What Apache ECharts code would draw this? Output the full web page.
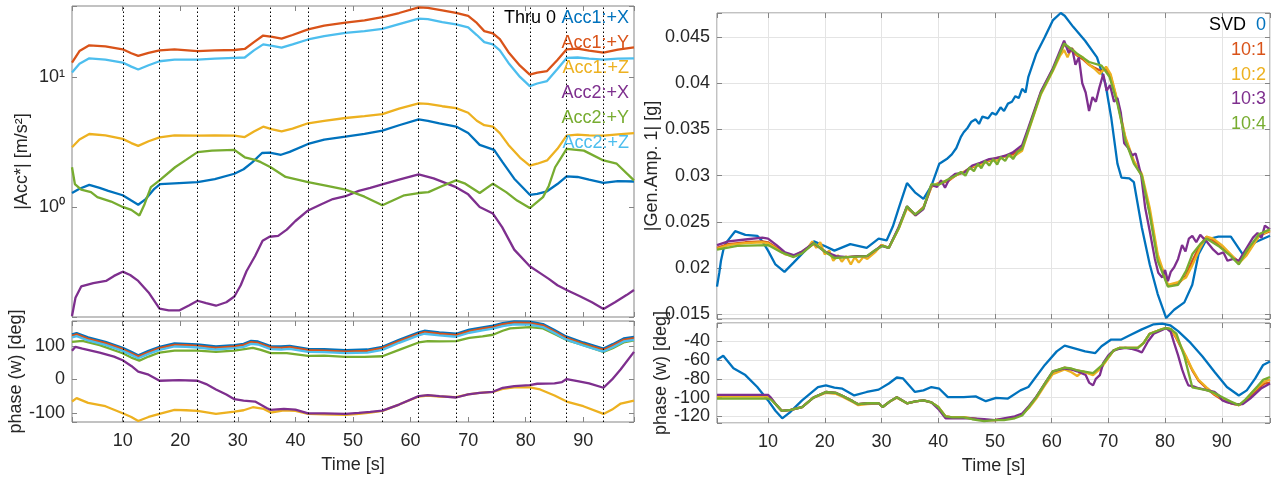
<!DOCTYPE html>
<html><head><meta charset="utf-8">
<script src="https://cdn.jsdelivr.net/npm/echarts@6/dist/echarts.min.js"></script>
<style>html,body{margin:0;padding:0;background:#fff}#c{width:1274px;height:479px}</style>
</head><body><div id="c"></div>
<script>
// ---------- DATA ----------
const vlines = [10.05, 16.4, 22.9, 29.3, 35.7, 42.15, 48.6, 55.0, 61.4, 67.85, 74.3, 80.7, 87.1, 93.5];

const leftNames = ['Acc1:+X','Acc1:+Y','Acc1:+Z','Acc2:+X','Acc2:+Y','Acc2:+Z'];
const rightNames = ['0','10:1','10:2','10:3','10:4'];

// |Acc*| magnitudes [t, m/s^2]
const magAcc1X = [[1.2,1.28],[2.5,1.38],[4.2,1.48],[6,1.40],[7.5,1.33],[10,1.23],[11.5,1.12],[12.7,1.04],[14,1.15],[15.5,1.38],[16.5,1.50],[19,1.52],[23,1.55],[26,1.64],[29.4,1.80],[31,1.95],[32.5,2.2],[34.2,2.6],[35.5,2.62],[37.5,2.52],[39,2.65],[42.2,3.05],[45,3.3],[48.7,3.47],[52,3.65],[55.1,3.86],[58,4.25],[61.4,4.72],[63,4.6],[65,4.4],[67.9,4.15],[70,3.7],[72,3.0],[73.5,2.85],[74.5,2.75],[76,2.2],[78,1.65],[80.7,1.24],[82,1.26],[83.7,1.32],[85.5,1.5],[87.1,1.72],[89,1.7],[91,1.62],[93.5,1.53],[96,1.58],[98.8,1.57]];
const magAcc1Y = [[1.2,12.9],[2.5,15.8],[4.2,17.5],[7,17.2],[10,16.3],[11.5,15.2],[12.7,14.5],[14.5,15.3],[16.4,16.0],[19,16.3],[23,15.8],[26,16.0],[29.4,16.1],[31.2,16.4],[32.8,18.5],[34.4,20.8],[36,20.3],[37.6,19.7],[39.5,21],[42.2,23.2],[45,24.8],[48.7,26.1],[52,27.2],[55.1,28.8],[58,31],[61.4,34.3],[63,34],[65.5,32.5],[67.9,31.1],[70,29.5],[71.5,26],[72.8,22.5],[74.3,21.6],[75.5,19.5],[77,15.5],[79,12.2],[80.7,10.4],[82,10.8],[83.7,11.1],[85.5,13.5],[87.1,16.3],[89,16.5],[91,15.9],[93.5,15.4],[96,16.2],[98.8,16.9]];
const magAcc1Z = [[1.2,2.88],[2.5,3.3],[4.2,3.64],[7,3.55],[10,3.34],[11.5,3.1],[12.7,2.95],[14.5,3.2],[16.4,3.43],[19,3.55],[23,3.54],[26,3.55],[29.4,3.54],[31.2,3.45],[32.8,3.8],[34.4,4.14],[36,3.95],[37.6,3.81],[39.5,4.0],[42.2,4.4],[45,4.6],[48.7,4.83],[52,5.0],[55.1,5.18],[58,5.7],[61.4,6.25],[63,6.2],[65.5,5.95],[67.9,5.75],[70,5.3],[71.5,4.6],[72.8,4.25],[74.3,4.14],[75.5,3.7],[77,3.0],[79,2.4],[80.7,2.08],[82,2.15],[83.7,2.28],[85.5,2.8],[87.1,3.54],[89,3.6],[91,3.55],[93.5,3.54],[96,3.62],[98.8,3.7]];
const magAcc2X = [[1.2,0.145],[1.8,0.2],[2.8,0.245],[4.9,0.26],[7.1,0.27],[8.5,0.295],[10,0.318],[11.3,0.30],[12.7,0.27],[14.5,0.22],[16.4,0.165],[18,0.16],[19.8,0.16],[21.5,0.175],[23,0.19],[24.5,0.182],[26.2,0.174],[28,0.185],[29.4,0.205],[30.5,0.25],[31.5,0.32],[33,0.42],[34.3,0.55],[35.5,0.59],[37,0.6],[38.5,0.67],[40,0.78],[42.2,0.94],[44.5,1.05],[46.5,1.15],[48.7,1.21],[51,1.33],[53,1.4],[55.1,1.49],[58,1.62],[61.4,1.78],[64,1.66],[67.9,1.42],[70,1.25],[72,1.0],[74.3,0.89],[75.9,0.70],[78,0.47],[80.7,0.35],[82.5,0.31],[84,0.28],[85.5,0.25],[87.1,0.23],[89.5,0.205],[91.5,0.185],[93.5,0.164],[95.5,0.185],[97.5,0.21],[98.8,0.23]];
const magAcc2Y = [[1.2,2.02],[1.7,1.5],[2.8,1.36],[4.5,1.3],[5.6,1.19],[8,1.1],[10,1.0],[11.5,0.95],[12.9,0.86],[13.8,1.05],[14.9,1.42],[16.4,1.6],[19.1,2.02],[21,2.3],[23,2.64],[25.5,2.71],[29.4,2.75],[31.2,2.41],[33,2.3],[34,2.21],[35.7,2.02],[38.3,1.7],[42.2,1.55],[45.5,1.45],[48.7,1.36],[52,1.2],[55.1,1.03],[58.9,1.23],[61.4,1.28],[63.1,1.3],[65.5,1.45],[67.9,1.6],[69.5,1.51],[72,1.28],[74.3,1.51],[76.6,1.3],[78.5,1.12],[80.7,0.98],[83,1.19],[84,1.45],[85.1,2.02],[87.1,2.8],[90.1,2.71],[93.5,2.28],[95.8,2.15],[98.8,1.6]];
const magAcc2Z = [[1.2,10.8],[2.5,12.6],[4.2,13.9],[7,13.6],[10,12.9],[11.5,12.0],[12.7,11.4],[14.5,12.3],[16.4,13.2],[19,13.6],[23,13.6],[26,13.8],[29.4,14.0],[31.2,14.1],[32.8,16],[34.4,17.8],[36,17.3],[37.6,16.8],[39.5,17.8],[42.2,19.4],[45,20.6],[48.7,21.8],[52,22.5],[55.1,23.4],[58,25.5],[61.4,28.1],[63,27.8],[65.5,26.4],[67.9,25.3],[70,24],[71.5,21],[72.8,18.5],[74.3,17.8],[75.5,16],[77,12.8],[79,10],[80.7,8.5],[82,8.9],[83.7,9.3],[85.5,11.5],[87.1,14.0],[89,14.1],[91,13.8],[93.5,13.6],[96,13.8],[98.8,13.9]];

// phase (w) [deg], left
const phAcc1X = [[1.2,134],[2,138],[4,125],[7,112],[10,94],[11.5,82],[12.7,72],[14.5,85],[16.4,97],[19,107],[21,106],[23,104],[26.2,98],[29.4,102],[31,106],[32.3,115],[33.5,113],[35.7,99],[37.5,98],[39,100],[42.2,91],[45,90],[48.7,87],[52.5,89],[55.1,97],[58,118],[61.4,140],[62.4,145],[65,140],[67.9,136],[70.2,148],[72.5,155],[74.3,160],[76,168],[78,173],[80.7,172],[83,165],[85,147],[87,128],[90,110],[93.5,92],[95.1,105],[97,122],[98.8,127]];
const phAcc1Y = [[1.2,130],[2,134],[4,121],[7,108],[10,90],[11.5,78],[12.7,68],[14.5,81],[16.4,93],[19,103],[21,102],[23,100],[26.2,94],[29.4,98],[31,102],[32.3,111],[33.5,109],[35.7,95],[37.5,94],[39,96],[42.2,87],[45,86],[48.7,83],[52.5,85],[55.1,93],[58,114],[61.4,136],[62.4,141],[65,136],[67.9,132],[70.2,144],[72.5,151],[74.3,156],[76,164],[78,169],[80.7,168],[83,161],[85,143],[87,124],[90,106],[93.5,88],[95.1,101],[97,118],[98.8,123]];
const phAcc1Z = [[1.2,-66],[2,-56],[4,-70],[7,-80],[10,-101],[11.5,-112],[12.7,-124],[14.5,-112],[16.4,-103],[19,-91],[21,-92],[23,-94],[26.2,-103],[29.4,-96],[31,-92],[32.6,-83],[34.5,-88],[35.7,-99],[38,-92],[40,-94],[42.2,-103],[45,-104],[48.7,-106],[51,-103],[53,-99],[55.1,-94],[58,-75],[61.4,-51],[63,-48],[65,-51],[67.9,-53],[70,-45],[72,-40],[74.3,-37],[76,-28],[78,-24],[80.7,-24],[82.5,-30],[85,-48],[87.1,-66],[90,-80],[93.5,-103],[95,-90],[96.5,-72],[98.8,-63]];
const phAcc2X = [[1.2,85],[1.8,97],[3,92],[6,80],[8.5,68],[10,57],[11.5,40],[12.7,23],[14.5,14],[16.4,-4],[19.8,-2],[23,-4],[24.5,-14],[26.2,-30],[28,-45],[29.4,-59],[31,-63],[33,-66],[35,-85],[35.7,-91],[38,-88],[40,-90],[42.2,-101],[45,-101],[48.7,-103],[51,-100],[53,-97],[55.1,-93],[58,-75],[61.4,-50],[63,-47],[65,-50],[67.9,-54],[70,-45],[72,-40],[74.3,-37],[76,-25],[78,-20],[80.7,-17],[82,-13],[85,-12],[86.3,-8],[87.1,1],[89,-5],[91,-12],[93.5,-25],[95,0],[96.5,30],[98.8,82]];
const phAcc2Y = [[1.2,112],[3,115],[6,102],[10,78],[11.5,65],[12.9,56],[14.5,68],[16.4,80],[19,86],[23,86],[26.2,82],[29.4,86],[32.6,94],[34,88],[35.7,78],[38.5,78],[42.2,70],[45,71],[48.7,67],[52,67],[55.1,69],[58,88],[61.4,110],[63,114],[65,113],[67.9,114],[70.2,124],[72.5,128],[74.3,133],[76,145],[77.3,152],[80.7,156],[83,152],[85,135],[87,118],[90,102],[93.5,82],[95.1,93],[97,110],[98.8,116]];
const phAcc2Z = [[1.2,125],[2,129],[4,116],[7,103],[10,85],[11.5,73],[12.7,63],[14.5,76],[16.4,88],[19,98],[21,97],[23,95],[26.2,89],[29.4,93],[31,97],[32.3,106],[33.5,104],[35.7,90],[37.5,89],[39,91],[42.2,82],[45,81],[48.7,78],[52.5,80],[55.1,88],[58,109],[61.4,131],[62.4,136],[65,131],[67.9,127],[70.2,139],[72.5,146],[74.3,151],[76,159],[78,164],[80.7,163],[83,156],[85,138],[87,119],[90,101],[93.5,83],[95.1,96],[97,113],[98.8,118]];

// |Gen.Amp. 1| [g], right
const ampSvd0 = [[1,0.0180],[1.4,0.0195],[1.7,0.0208],[2.2,0.0222],[2.8,0.0229],[4.2,0.0240],[6,0.0236],[8.1,0.0235],[9,0.0229],[10,0.0219],[11.3,0.0204],[12.9,0.0196],[14.5,0.0206],[16.7,0.0220],[18.1,0.0229],[20,0.0224],[21.7,0.0219],[24.5,0.0226],[27.4,0.0222],[29.5,0.0232],[30.9,0.0230],[32,0.0245],[33.1,0.0266],[34.5,0.0292],[35.9,0.0282],[37.4,0.0275],[38.8,0.0289],[40.2,0.0313],[41.5,0.0318],[42.4,0.0323],[43.2,0.0330],[44,0.0342],[44.5,0.0347],[45.2,0.0352],[45.8,0.0358],[46.6,0.0361],[47.2,0.0356],[47.8,0.0364],[48.8,0.0362],[49.5,0.0368],[50.2,0.0366],[51,0.0374],[51.6,0.0370],[52.3,0.0378],[53,0.0380],[53.6,0.0386],[54.2,0.0384],[54.8,0.0394],[55.4,0.0390],[55.9,0.0407],[57.3,0.0432],[58.8,0.0450],[60.2,0.0468],[61.6,0.0476],[62.3,0.0473],[63.8,0.0461],[65.9,0.0446],[68,0.0428],[69.5,0.0399],[70.5,0.0363],[71.6,0.0313],[72.3,0.0298],[73.7,0.0297],[74.5,0.0293],[75.9,0.0244],[77.3,0.0204],[78.7,0.0172],[80.2,0.0146],[81.6,0.0155],[83.4,0.0163],[84.8,0.0182],[85.9,0.0215],[87.3,0.0231],[89.4,0.0234],[91.6,0.0234],[93.7,0.0215],[95.9,0.0228],[98.5,0.0235]];
const amp101 = [[1,0.0222],[3,0.0226],[6,0.0228],[9,0.0229],[10,0.0228],[11.5,0.0222],[13,0.0216],[14.5,0.0213],[16,0.0217],[18,0.0226],[19,0.0223],[20.5,0.0216],[22,0.0212],[24,0.0212],[26,0.0213],[27.5,0.0213],[29,0.0219],[30,0.0225],[31.3,0.0222],[33,0.0243],[34.5,0.0266],[36,0.0258],[37.4,0.0266],[38.8,0.0288],[40,0.0291],[41.7,0.0294],[43,0.0300],[44.5,0.0304],[46,0.0309],[47.4,0.0313],[49,0.0316],[50.2,0.0319],[52,0.0321],[53.1,0.0323],[54.8,0.0330],[55.9,0.0350],[58.1,0.0390],[60.2,0.0415],[62.2,0.0442],[63.2,0.0437],[64.5,0.0430],[65.5,0.0426],[66.6,0.0420],[67.5,0.0417],[68.8,0.0413],[69.6,0.0416],[70.4,0.0408],[71.6,0.0380],[73,0.0340],[74.5,0.0315],[75.9,0.0300],[77.3,0.0260],[78.7,0.0212],[80.5,0.0181],[82.3,0.0183],[83.7,0.0192],[84.8,0.0208],[86.2,0.0225],[87.3,0.0234],[88.5,0.0230],[90,0.0222],[91.6,0.0214],[93,0.0207],[94.4,0.0216],[96.6,0.0235],[98.5,0.0240]];
const amp102 = [[1,0.0221],[3,0.0225],[6,0.0227],[9,0.0228],[10,0.0227],[11.5,0.0221],[13,0.0215],[14.5,0.0213],[16,0.0218],[17,0.0222],[17.8,0.0229],[18.5,0.0222],[19.2,0.0228],[20,0.0215],[20.8,0.0219],[21.5,0.0208],[22.3,0.0214],[23,0.0207],[23.8,0.0213],[24.6,0.0204],[25.3,0.0212],[26,0.0206],[26.8,0.0212],[27.5,0.0210],[29,0.0218],[30,0.0225],[31.3,0.0222],[33,0.0242],[34.5,0.0265],[36,0.0257],[37.4,0.0265],[38.8,0.0288],[40,0.0292],[41.7,0.0295],[43,0.0300],[44.5,0.0304],[46,0.0310],[47.4,0.0311],[49,0.0317],[50.2,0.0316],[52,0.0322],[53.1,0.0320],[54.8,0.0327],[55.9,0.0348],[58.1,0.0388],[60.2,0.0413],[61.5,0.0430],[62.2,0.0436],[62.8,0.0428],[63.5,0.0438],[64.5,0.0431],[65.5,0.0428],[66.6,0.0420],[67.5,0.0416],[68.5,0.0410],[69.6,0.0418],[70.4,0.0410],[71.6,0.0381],[73,0.0342],[74.5,0.0316],[75.9,0.0302],[77.3,0.0265],[78.7,0.0215],[80.5,0.0182],[82.3,0.0185],[83.7,0.0190],[84.8,0.0203],[86.2,0.0222],[87.3,0.0234],[88.5,0.0232],[90,0.0225],[91.6,0.0215],[93,0.0205],[94.4,0.0214],[96.6,0.0235],[98.5,0.0241]];
const amp103 = [[1,0.0225],[3,0.0229],[6,0.0231],[9,0.0233],[10,0.0232],[11.5,0.0225],[13,0.0217],[14.5,0.0214],[16,0.0218],[18,0.0227],[20,0.0218],[22,0.0213],[24,0.0212],[26,0.0213],[27.5,0.0213],[29,0.0220],[30,0.0224],[31.3,0.0222],[33,0.0244],[34.5,0.0267],[36,0.0257],[37.4,0.0264],[38.8,0.0290],[39.8,0.0288],[40.5,0.0295],[41.2,0.0287],[42,0.0297],[43,0.0302],[44.5,0.0303],[46,0.0311],[47.4,0.0314],[49,0.0318],[50.2,0.0319],[52,0.0322],[53.1,0.0325],[54.8,0.0333],[55.9,0.0352],[58.1,0.0391],[60.2,0.0416],[62.2,0.0446],[63,0.0433],[63.6,0.0438],[64.2,0.0420],[64.8,0.0428],[65.4,0.0400],[66,0.0390],[66.6,0.0370],[67.2,0.0385],[67.8,0.0380],[68.4,0.0395],[69.1,0.0410],[69.7,0.0392],[70.3,0.0398],[71,0.0380],[71.6,0.0384],[72.2,0.0368],[72.8,0.0335],[73.5,0.0330],[74.2,0.0322],[74.8,0.0324],[75.2,0.0315],[75.8,0.0300],[76.5,0.0265],[77.3,0.0240],[78.2,0.0210],[78.8,0.0195],[79.5,0.0190],[80,0.0198],[80.5,0.0186],[81,0.0196],[81.6,0.0201],[82.3,0.0210],[83,0.0225],[83.6,0.0218],[84.2,0.0232],[84.8,0.0235],[85.5,0.0228],[86.2,0.0236],[87.3,0.0229],[88.5,0.0220],[89.4,0.0215],[90.3,0.0217],[91,0.0208],[92,0.0210],[93,0.0208],[94.4,0.0222],[95.5,0.0233],[96.3,0.0238],[97,0.0233],[97.6,0.0246],[98.5,0.0242]];
const amp104 = [[1,0.0220],[4.6,0.0224],[10,0.0225],[12.4,0.0217],[14.5,0.0212],[16,0.0216],[18.1,0.0227],[20,0.0218],[21.7,0.0211],[24,0.0212],[27.4,0.0213],[29,0.0220],[30.2,0.0224],[31.3,0.0222],[33.1,0.0244],[34.5,0.0267],[35.9,0.0258],[37.4,0.0265],[38.8,0.0291],[40,0.0290],[41.7,0.0296],[43,0.0300],[44,0.0304],[44.8,0.0300],[45.5,0.0309],[46.3,0.0305],[47,0.0313],[47.6,0.0308],[48.3,0.0316],[49,0.0311],[49.7,0.0318],[50.4,0.0312],[51,0.0320],[51.8,0.0316],[52.5,0.0323],[53.2,0.0318],[54,0.0326],[54.8,0.0329],[55.9,0.0349],[58.1,0.0389],[60.2,0.0414],[62.2,0.0443],[64.5,0.0432],[66.6,0.0423],[68.8,0.0419],[70.2,0.0407],[71.6,0.0378],[73,0.0338],[74.5,0.0313],[75.9,0.0300],[77.3,0.0258],[78.7,0.0208],[80.5,0.0180],[82.3,0.0182],[83.7,0.0197],[84.8,0.0215],[86.2,0.0226],[87.3,0.0232],[89.4,0.0224],[91.6,0.0213],[93,0.0204],[94.4,0.0219],[96.6,0.0237],[98.5,0.0242]];

// phase (w) [deg], right
const phSvd0 = [[1,-59.8],[2.1,-55.5],[3.9,-68.8],[6,-76],[8.1,-88.7],[10,-103],[11.3,-114],[12.5,-122],[13.8,-116],[16,-103],[18.8,-88.7],[20.2,-86.9],[21.7,-89.4],[23.1,-90.5],[25.2,-97.7],[27.4,-94],[29.5,-91.5],[31.3,-85],[32.7,-78.6],[33.8,-79.6],[35.9,-94],[37.4,-92.3],[38.8,-88.7],[40.2,-90.5],[41.7,-99.5],[44.5,-99.5],[46.6,-98.7],[48.4,-103.8],[50.2,-100.2],[52.3,-101],[54.5,-92.3],[55.9,-88.7],[58.8,-65.2],[60.9,-50.8],[62.3,-44.7],[64.5,-48.3],[65.9,-50.8],[67.7,-52.6],[68.8,-45.4],[70.5,-38.2],[72.3,-38.2],[73.7,-33.9],[75.9,-27.4],[78,-22],[79.5,-21.2],[80.9,-23],[82.3,-29.2],[84.5,-41.8],[86.6,-56.2],[88.7,-72.4],[90.9,-88.7],[93,-97.7],[94.4,-92.3],[95.9,-79.6],[97.3,-65.2],[98.5,-61.6]];
const ph101 = [[1,-98],[10,-98],[10.5,-101],[11.5,-108],[12.4,-114],[14,-113],[16,-110],[18,-100],[20.2,-94],[22,-95],[23.1,-98],[25,-104],[25.9,-107],[27.5,-106],[29.5,-106],[30.2,-110],[31.5,-104],[32.7,-99.5],[34.5,-106],[36,-104],[37.4,-103],[38.8,-105],[40,-110],[41.3,-120],[42.5,-121],[44.5,-121],[46,-122],[48.1,-124],[50,-124],[51.6,-123],[53.5,-121],[54.8,-118],[56,-110],[57.3,-99.5],[58.8,-85],[60.2,-73],[62.3,-68],[63.5,-70],[64.5,-71],[67.3,-75],[68.8,-67],[70.9,-50],[72,-47],[73,-47],[75.2,-47],[76.2,-42],[77.3,-32],[79.5,-27],[80.2,-26],[81,-27],[82,-37],[83.7,-57],[84.8,-71],[85.9,-82],[87.3,-90],[88.7,-97],[90,-102],[91.6,-106],[93,-108],[94,-105],[95.1,-98],[96.5,-90],[97.5,-85],[98.5,-84]];
const ph102 = [[1,-99],[10,-99],[10.5,-101],[11.5,-108],[12.4,-114],[14,-113],[16,-110],[18,-100],[20.2,-95],[22,-96],[23.1,-99],[25,-105],[25.9,-108],[27.5,-107],[29.5,-106],[30.2,-110],[31.5,-104],[32.7,-100],[34.5,-106],[36,-104],[37.4,-103],[38.8,-105],[40,-110],[41.3,-120],[42.5,-121],[44.5,-121],[46,-122],[48.1,-124],[50,-124],[51.6,-123],[53.5,-121],[54.8,-118],[56,-111],[57.3,-101],[58.8,-87],[60.2,-75],[62.3,-70],[63.5,-73],[64.5,-77],[65.5,-72],[67.3,-76],[68.8,-68],[70.9,-50],[72,-47],[73,-47],[75.2,-47],[76.2,-42],[77.3,-32],[79.5,-27],[80.2,-26],[81,-27],[82,-36],[83.7,-56],[84.8,-70],[85.9,-81],[87.3,-89],[88.7,-96],[90,-101],[91.6,-105],[93,-108],[94,-104],[95.1,-96],[96.5,-88],[97.5,-83],[98.5,-81]];
const ph103 = [[1,-97],[10,-97],[10.5,-100],[11.5,-108],[12.4,-114],[14,-113],[16,-110],[18,-100],[20.2,-94],[22,-95],[23.1,-98],[25,-104],[25.9,-107],[27.5,-106],[29.5,-106],[30.2,-110],[31.5,-104],[32.7,-99.5],[34.5,-106],[36,-104],[37.4,-103],[38.8,-105],[40,-112],[41.3,-122],[42.5,-122],[44.5,-122],[46,-122],[48.1,-123],[50,-124],[51.6,-122],[53.5,-120],[54.8,-117],[56,-109],[57.3,-99],[58.8,-85],[60.2,-72],[62.3,-69],[63.5,-70],[64.5,-72],[66,-76],[66.6,-84],[67.3,-87],[67.8,-80],[68.5,-76],[69.1,-63],[70,-55],[70.9,-50],[72,-48],[73,-47],[74,-48],[75.2,-50],[75.9,-52],[77,-40],[78,-32],[79.5,-28],[80.2,-26],[81,-30],[81.6,-42],[82.3,-55],[83,-70],[83.6,-80],[84.1,-87],[85,-88],[85.9,-90],[87.3,-92],[88.7,-94],[89.5,-98],[90.1,-103],[91,-105],[92.3,-107],[93.7,-107],[95,-101],[95.9,-96],[97,-90],[98.5,-85]];
const ph104 = [[1,-101],[10,-101],[10.5,-102],[11.5,-108],[12.4,-114],[14,-113],[16,-110],[18,-100],[20.2,-94],[22,-95],[23.1,-98],[25,-104],[25.9,-107],[27.5,-106],[29.5,-106],[30.2,-110],[31.5,-104],[32.7,-99.5],[34.5,-106],[36,-104],[37.4,-103],[38.8,-105],[40,-110],[41.3,-120],[42.5,-121],[44.5,-121],[46,-123],[48.1,-125],[50,-124],[51.6,-124],[53.5,-122],[54.8,-119],[56,-110],[57.3,-99.5],[58.8,-85],[60.2,-72],[62.3,-68],[63.5,-69],[64.5,-71],[67.3,-74],[68.8,-66],[70.9,-50],[72,-47],[73,-47],[75.2,-47],[76.2,-42],[77.3,-32],[79.5,-27],[80.2,-26],[81,-27],[82,-32],[83.4,-56],[84.2,-75],[84.8,-89],[85.5,-90],[87.3,-92],[88.7,-95],[90.1,-99.5],[91.5,-104],[93,-108],[94,-103],[95.1,-96],[96.3,-88],[97.3,-81],[98.5,-78]];

// tick values
const xTicksStep = 10;
const logTickExps = [0, 1];

// ---------- CHART ----------
const FONT = '"Liberation Sans", Arial, Helvetica, sans-serif';
const TXT = '#262626';
const BOX = '#858585';
const GRIDC = '#e4e4e4';
const COL = {blue:'#0072BD', orange:'#D95319', yellow:'#EDB120', purple:'#7E2F8E', green:'#77AC30', cyan:'#4DBEEE'};
const SUP = {'0':'\u2070','1':'\u00B9','2':'\u00B2','3':'\u00B3'};
const TICKFS = 18;

const grids = [
  {left:72, top:6, width:562, height:311},
  {left:72, top:321, width:562, height:101},
  {left:717, top:13, width:553, height:306},
  {left:717, top:323, width:553, height:100}
].map(g => Object.assign({show:true, borderColor:BOX, borderWidth:1, backgroundColor:'transparent'}, g));

const isMult = (v, iv) => Math.abs(v / iv - Math.round(v / iv)) < 1e-6;

const xr = [[1.2,98.8],[1.2,98.8],[1,98.5],[1,98.5]];
const xAxis = [];
for (let i = 0; i < 4; i++) {
  const lab = (i === 1 || i === 3);
  xAxis.push({
    type:'value', gridIndex:i, min:xr[i][0], max:xr[i][1],
    splitNumber:10, minInterval:xTicksStep, maxInterval:xTicksStep,
    axisLine:{show:false, onZero:false},
    axisTick:{show:true, inside:true, length:5, lineStyle:{color:BOX}},
    axisLabel:{show:lab, color:TXT, fontFamily:FONT, fontSize:TICKFS, margin:10,
      formatter: v => isMult(v, xTicksStep) ? String(Math.round(v)) : ''},
    splitLine:{show:i >= 2, lineStyle:{color:GRIDC}},
    name: lab ? 'Time [s]' : '', nameLocation:'middle', nameGap:34,
    nameTextStyle:{color:TXT, fontFamily:FONT, fontSize:18}
  });
}
for (let i = 0; i < 4; i++) {
  xAxis.push({
    type:'value', gridIndex:i, position:'top', min:xr[i][0], max:xr[i][1],
    splitNumber:10, minInterval:xTicksStep, maxInterval:xTicksStep,
    axisLine:{show:false, onZero:false}, axisLabel:{show:false}, splitLine:{show:false},
    axisTick:{show:true, inside:true, length:5, lineStyle:{color:BOX}}
  });
}

const logFmt = v => {
  const l = Math.log10(v), r = Math.round(l);
  return (Math.abs(l - r) < 1e-6 && logTickExps.includes(r)) ? '10' + SUP[String(r)] : '';
};
const yCfg = [
  {type:'log', min:0.1425, max:35.1, name:'|Acc*| [m/s\u00B2]', nameGap:41, fmt:logFmt, split:false},
  {type:'value', min:-127, max:174, iv:100, name:'phase (w) [deg]', nameGap:43, split:false},
  {type:'value', min:0.0145, max:0.0476, iv:0.005, name:'|Gen.Amp. 1| [g]', nameGap:40, split:true},
  {type:'value', min:-127, max:-20.6, iv:20, name:'phase (w) [deg]', nameGap:47, split:true}
];
yCfg.forEach(c => {
  if (!c.fmt) c.fmt = v => isMult(v, c.iv) ? String(+v.toFixed(4)) : '';
});
const yAxis = [];
function yBase(c, i) {
  const base = {type:c.type, gridIndex:i, min:c.min, max:c.max};
  if (c.type === 'log') base.logBase = 10;
  if (c.iv) { base.minInterval = c.iv; base.maxInterval = c.iv; base.splitNumber = Math.round((c.max - c.min) / c.iv); }
  return base;
}
yCfg.forEach((c, i) => {
  yAxis.push(Object.assign(yBase(c, i), {
    position:'left',
    axisLine:{show:false, onZero:false},
    axisTick:{show:true, inside:true, length:5, lineStyle:{color:BOX}},
    axisLabel:{color:TXT, fontFamily:FONT, fontSize:TICKFS, margin:7, formatter:c.fmt},
    splitLine:{show:c.split, lineStyle:{color:GRIDC}},
    name:c.name, nameLocation:'middle', nameGap:c.nameGap,
    nameTextStyle:{color:TXT, fontFamily:FONT, fontSize:18}
  }));
});
yCfg.forEach((c, i) => {
  yAxis.push(Object.assign(yBase(c, i), {
    position:'right', axisLine:{show:false, onZero:false}, axisLabel:{show:false}, splitLine:{show:false},
    axisTick:{show:true, inside:true, length:5, lineStyle:{color:BOX}}
  }));
});

function line(name, data, gi, color, extra) {
  return Object.assign({
    name, type:'line', xAxisIndex:gi, yAxisIndex:gi, data,
    showSymbol:false, symbol:'none', silent:true,
    lineStyle:{color, width:2.3}, itemStyle:{color}
  }, extra || {});
}
const vMark = {
  silent:true, symbol:['none','none'], label:{show:false},
  lineStyle:{color:'#000', type:[1.5,2.5], width:1}, emphasis:{disabled:true},
  data: vlines.map(v => ({xAxis:v}))
};

const series = [
  line(leftNames[0], magAcc1X, 0, COL.blue, {markLine:vMark}),
  line(leftNames[1], magAcc1Y, 0, COL.orange),
  line(leftNames[2], magAcc1Z, 0, COL.yellow),
  line(leftNames[3], magAcc2X, 0, COL.purple),
  line(leftNames[4], magAcc2Y, 0, COL.green),
  line(leftNames[5], magAcc2Z, 0, COL.cyan),

  line(leftNames[0], phAcc1X, 1, COL.blue, {markLine:vMark}),
  line(leftNames[1], phAcc1Y, 1, COL.orange),
  line(leftNames[2], phAcc1Z, 1, COL.yellow),
  line(leftNames[3], phAcc2X, 1, COL.purple),
  line(leftNames[4], phAcc2Y, 1, COL.green),
  line(leftNames[5], phAcc2Z, 1, COL.cyan),

  line(rightNames[0], ampSvd0, 2, COL.blue),
  line(rightNames[1], amp101, 2, COL.orange),
  line(rightNames[2], amp102, 2, COL.yellow),
  line(rightNames[3], amp103, 2, COL.purple),
  line(rightNames[4], amp104, 2, COL.green),

  line(rightNames[0], phSvd0, 3, COL.blue),
  line(rightNames[1], ph101, 3, COL.orange),
  line(rightNames[2], ph102, 3, COL.yellow),
  line(rightNames[3], ph103, 3, COL.purple),
  line(rightNames[4], ph104, 3, COL.green)
];

function txt(text, x, y, color) {
  return {type:'text', x, y, z:100, silent:true,
    style:{text, fill:color, font:'18px ' + FONT, align:'right', verticalAlign:'middle',
           textAlign:'right', textVerticalAlign:'middle'}};
}
const leftCols = [COL.blue, COL.orange, COL.yellow, COL.purple, COL.green, COL.cyan];
const rightCols = [COL.blue, COL.orange, COL.yellow, COL.purple, COL.green];
const graphic = [txt('Thru 0', 556, 18, '#000'), txt('SVD', 1246, 25, '#000')];
leftNames.forEach((n, i) => graphic.push(txt(n, 629, 18 + i * 25, leftCols[i])));
rightNames.forEach((n, i) => graphic.push(txt(n, 1266, 25 + i * 24.8, rightCols[i])));

const chart = echarts.init(document.getElementById('c'));
chart.setOption({
  animation:false, backgroundColor:'#fff',
  textStyle:{fontFamily:FONT},
  grid:grids, xAxis, yAxis, series, graphic
});
</script></body></html>
